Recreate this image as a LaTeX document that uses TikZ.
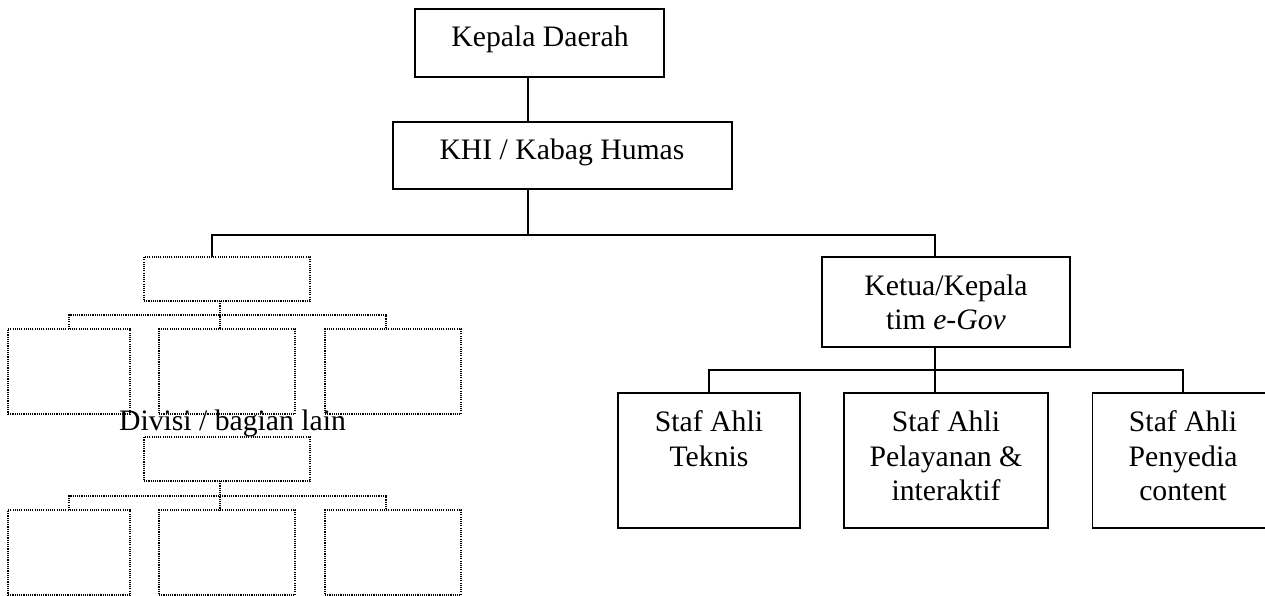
\documentclass[tikz,border=0pt]{standalone}
\usepackage{fontspec}
\setmainfont{Liberation Serif}
\begin{document}
\begin{tikzpicture}[x=1pt,y=-1pt,
  solidbox/.style={draw=black,line width=1.2pt,inner sep=0pt,outer sep=0pt},
  dotbox/.style={draw=black,line width=1.3pt,dash pattern=on 1.1pt off 1.1pt,inner sep=0pt,outer sep=0pt},
  solidline/.style={draw=black,line width=1.2pt},
  dotline/.style={draw=black,line width=1.3pt,dash pattern=on 1.1pt off 1.1pt},
  txt/.style={inner sep=0pt,outer sep=0pt,align=center,font=\fontsize{29.7}{34.3}\selectfont}
]
\useasboundingbox (0,0) rectangle (1265,596);
\clip (0,0) rectangle (1265,596);

% solid boxes
\node[solidbox,minimum width=249pt,minimum height=68pt] (kd) at (539.5,43) {};
\node[solidbox,minimum width=339pt,minimum height=67pt] (khi) at (562.5,155.5) {};
\node[solidbox,minimum width=248pt,minimum height=90pt] (ket) at (946,302) {};
\node[solidbox,minimum width=182pt,minimum height=135pt] (s1) at (709,460.5) {};
\node[solidbox,minimum width=204pt,minimum height=135pt] (s2) at (946,460.5) {};
\node[solidbox,minimum width=181pt,minimum height=135pt] (s3) at (1183,460.5) {};

% texts
\node[txt,anchor=base] (kdt) at (540,47) {Kepala Daerah};
\node[txt,anchor=base] (khit) at (562,160) {KHI / Kabag Humas};
\node[txt,anchor=north] (kett) at (946,275) {Ketua/Kepala\\tim \textit{e-Gov}};
\node[txt,anchor=north] (s1t) at (709,411) {Staf Ahli\\Teknis};
\node[txt,anchor=north] (s2t) at (946,411) {Staf Ahli\\Pelayanan \&\\interaktif};
\node[txt,anchor=north] (s3t) at (1183,411) {Staf Ahli\\Penyedia\\content};

% dotted boxes
\node[dotbox,minimum width=166pt,minimum height=44pt] (d1) at (227,279) {};
\node[dotbox,minimum width=122pt,minimum height=85pt] (a1) at (69,371.5) {};
\node[dotbox,minimum width=136pt,minimum height=85pt] (b1) at (227,371.5) {};
\node[dotbox,minimum width=136pt,minimum height=85pt] (c1) at (393,371.5) {};
\node[dotbox,minimum width=166pt,minimum height=44pt] (d2) at (227,459) {};
\node[dotbox,minimum width=122pt,minimum height=85pt] (a2) at (69,552.5) {};
\node[dotbox,minimum width=136pt,minimum height=85pt] (b2) at (227,552.5) {};
\node[dotbox,minimum width=136pt,minimum height=85pt] (c2) at (393,552.5) {};
\node[txt,anchor=base] (divt) at (232.5,430) {Divisi / bagian lain};

% junction coordinates
\coordinate (k1) at (528,0);
\coordinate (topL) at (212,235);
\coordinate (topR) at (935,235);
\coordinate (rbL) at (709,370);
\coordinate (rbM) at (935,370);
\coordinate (rbR) at (1183,370);
\coordinate (j1) at (220,315);
\coordinate (bl1) at (69,315);
\coordinate (br1) at (386,315);
\coordinate (j2) at (220,496);
\coordinate (bl2) at (69,496);
\coordinate (br2) at (386,496);

% solid connectors
\draw[solidline] (kd.south -| k1) -- (khi.north -| k1);
\draw[solidline] (khi.south -| k1) -- (topL -| k1);
\draw[solidline] (d1.north -| topL) -- (topL) -- (topR) -- (ket.north -| topR);
\draw[solidline] (ket.south -| rbM) -- (rbM);
\draw[solidline] (s1.north -| rbL) -- (rbL) -- (rbR) -- (s3.north -| rbR);
\draw[solidline] (rbM) -- (s2.north -| rbM);

% dotted connectors
\draw[dotline] (d1.south -| j1) -- (j1) -- (b1.north -| j1);
\draw[dotline] (a1.north -| bl1) -- (bl1) -- (br1) -- (c1.north -| br1);
\draw[dotline] (d2.south -| j2) -- (j2) -- (b2.north -| j2);
\draw[dotline] (a2.north -| bl2) -- (bl2) -- (br2) -- (c2.north -| br2);
\end{tikzpicture}
\end{document}
